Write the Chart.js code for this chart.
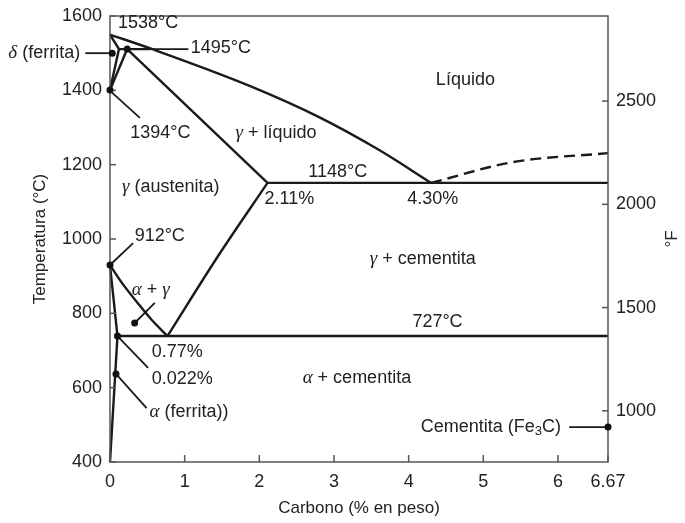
<!DOCTYPE html>
<html>
<head>
<meta charset="utf-8">
<script src="https://cdn.jsdelivr.net/npm/chart.js@4.4.0/dist/chart.umd.min.js"></script>
<style>
html, body { margin: 0; padding: 0; background: #fff; }
#wrap { width: 685px; height: 523px; }
</style>
</head>
<body>
<div id="wrap"><canvas id="feC"></canvas></div>
<script>
// Fe-C phase diagram, points as [wt% C, °C]
const xTicks = [0, 1, 2, 3, 4, 5, 6, 6.67];
const fTicks = [1000, 1500, 2000, 2500];

const liquidus = [[0, 1550], [0.55, 1512], [1.87, 1412], [2.8, 1328], [3.6, 1240], [4.3, 1151]];
const liquidusFe3C = [[4.3, 1151], [5.4, 1207], [6.67, 1231]];
const deltaBound = [[0, 1550], [0.12, 1511], [0, 1401]];
const gammaDelta = [[0, 1401], [0.23, 1511]];
const peritectic = [[0.12, 1511], [0.55, 1511]];
const solidus = [[0.23, 1511], [2.11, 1151]];
const eutectic = [[2.11, 1151], [6.67, 1151]];
const a3 = [[0, 930], [0.16, 882], [0.37, 828], [0.56, 782], [0.77, 739]];
const alphaBound = [[0, 930], [0.1, 739]];
const acm = [[0.77, 739], [1.45, 955], [2.11, 1151]];
const eutectoid = [[0.1, 739], [6.67, 739]];
const solvus = [[0.1, 739], [0, 400]];
const dots = [[0.03, 1500], [0.23, 1511], [0, 1401], [0, 930], [0.33, 774], [0.1, 739], [0.08, 637], [6.67, 494]];

// text labels: segments, anchor [wt%, °C], alignment, optional leader line
const labels = [
    { segs: [['1538°C', 's']], at: [0.107, 1581], align: 'left' },
    { segs: [['1495°C', 's']], at: [1.08, 1515], align: 'left', lead: [[0.23, 1511], [1.05, 1511]] },
    { segs: [['δ', 'g'], [' (ferrita)', 's']], at: [-0.40, 1500], align: 'right', lead: [[-0.33, 1500], [0.03, 1500]] },
    { segs: [['1394°C', 's']], at: [0.27, 1285], align: 'left', lead: [[0.02, 1395], [0.4, 1326]] },
    { segs: [['Líquido', 's']], at: [4.76, 1428], align: 'center' },
    { segs: [['γ', 'g'], [' + líquido', 's']], at: [1.68, 1285], align: 'left' },
    { segs: [['1148°C', 's']], at: [3.05, 1180], align: 'center' },
    { segs: [['2.11%', 's']], at: [2.07, 1108], align: 'left' },
    { segs: [['4.30%', 's']], at: [3.98, 1108], align: 'left' },
    { segs: [['γ', 'g'], [' (austenita)', 's']], at: [0.16, 1140], align: 'left' },
    { segs: [['912°C', 's']], at: [0.33, 1008], align: 'left', lead: [[0, 930], [0.31, 989]] },
    { segs: [['γ', 'g'], [' + cementita', 's']], at: [3.48, 946], align: 'left' },
    { segs: [['α', 'g'], [' + ', 's'], ['γ', 'g']], at: [0.29, 863], align: 'left', lead: [[0.33, 774], [0.6, 828]] },
    { segs: [['727°C', 's']], at: [4.05, 777], align: 'left' },
    { segs: [['0.77%', 's']], at: [0.56, 696], align: 'left' },
    { segs: [['0.022%', 's']], at: [0.56, 623], align: 'left', lead: [[0.1, 739], [0.51, 653]] },
    { segs: [['α', 'g'], [' + cementita', 's']], at: [2.58, 626], align: 'left' },
    { segs: [['α', 'g'], [' (ferrita))', 's']], at: [0.53, 535], align: 'left', lead: [[0.08, 637], [0.49, 545]] },
    { segs: [['Cementita (Fe', 's'], ['3', 'sub'], ['C)', 's']], at: [6.04, 494], align: 'right', lead: [[6.15, 494], [6.67, 494]] }
];

const fonts = {
    s: '18px "Liberation Sans", Arial, sans-serif',
    g: 'italic 19px "Liberation Serif", "Times New Roman", serif',
    sub: '13px "Liberation Sans", Arial, sans-serif',
    t: '17px "Liberation Sans", Arial, sans-serif'
};

const toXY = pts => pts.map(p => ({ x: p[0], y: p[1] }));

function lineSet(pts, extra) {
    return Object.assign({
        data: toXY(pts),
        showLine: true,
        borderColor: '#1a1a1a',
        borderWidth: 2.4,
        pointRadius: 0,
        fill: false,
        clip: false
    }, extra || {});
}

function drawRich(ctx, segs, px, py, align) {
    let w = 0;
    segs.forEach(([t, f]) => { ctx.font = fonts[f]; w += ctx.measureText(t).width; });
    let cx = align === 'right' ? px - w : align === 'center' ? px - w / 2 : px;
    segs.forEach(([t, f]) => {
        ctx.font = fonts[f];
        ctx.fillText(t, cx, py + (f === 'sub' ? 4 : 0));
        cx += ctx.measureText(t).width;
    });
}

const annot = {
    id: 'annot',
    afterDraw(chart) {
        const { ctx, chartArea: a, scales: { x, y, y2 } } = chart;
        const seg = (x1, y1, x2, y2_) => { ctx.beginPath(); ctx.moveTo(x1, y1); ctx.lineTo(x2, y2_); ctx.stroke(); };
        ctx.save();

        // frame and inward tick marks
        ctx.strokeStyle = '#555';
        ctx.lineWidth = 1.5;
        ctx.strokeRect(a.left, a.top, a.right - a.left, a.bottom - a.top);
        y.ticks.forEach(t => { const p = y.getPixelForValue(t.value); seg(a.left, p, a.left + 6, p); });
        x.ticks.forEach(t => { const p = x.getPixelForValue(t.value); seg(p, a.bottom, p, a.bottom - 7); });
        y2.ticks.forEach(t => { const p = y2.getPixelForValue(t.value); seg(a.right - 6, p, a.right, p); });

        // leader lines
        ctx.strokeStyle = '#1a1a1a';
        ctx.lineWidth = 1.8;
        labels.forEach(l => {
            if (!l.lead) return;
            const [p, q] = l.lead;
            seg(x.getPixelForValue(p[0]), y.getPixelForValue(p[1]), x.getPixelForValue(q[0]), y.getPixelForValue(q[1]));
        });

        // dots on top of the frame
        ctx.fillStyle = '#111';
        dots.forEach(d => {
            ctx.beginPath();
            ctx.arc(x.getPixelForValue(d[0]), y.getPixelForValue(d[1]), 3.5, 0, Math.PI * 2);
            ctx.fill();
        });

        // labels
        ctx.fillStyle = '#222';
        ctx.textBaseline = 'middle';
        labels.forEach(l => {
            drawRich(ctx, l.segs, x.getPixelForValue(l.at[0]), y.getPixelForValue(l.at[1]), l.align);
        });

        // right axis title
        ctx.save();
        ctx.translate(672, (a.top + a.bottom) / 2);
        ctx.rotate(-Math.PI / 2);
        ctx.textAlign = 'center';
        ctx.font = fonts.t;
        ctx.fillText('°F', 0, 0);
        ctx.restore();

        ctx.restore();
    }
};

const tickFont = { family: '"Liberation Sans", Arial, sans-serif', size: 18 };
const titleFont = { family: '"Liberation Sans", Arial, sans-serif', size: 17 };
const plain = v => String(v);

const ctxFeC = document.getElementById('feC').getContext('2d');
const feCChart = new Chart(ctxFeC, {
    type: 'scatter',
    data: {
        datasets: [
            lineSet(liquidus, { cubicInterpolationMode: 'monotone' }),
            lineSet(liquidusFe3C, { cubicInterpolationMode: 'monotone', borderDash: [11, 6] }),
            lineSet(deltaBound),
            lineSet(gammaDelta),
            lineSet(peritectic),
            lineSet(solidus),
            lineSet(eutectic),
            lineSet(a3, { cubicInterpolationMode: 'monotone' }),
            lineSet(alphaBound),
            lineSet(acm, { cubicInterpolationMode: 'monotone' }),
            lineSet(eutectoid),
            lineSet(solvus)
        ]
    },
    options: {
        responsive: true,
        maintainAspectRatio: false,
        animation: false,
        layout: { padding: { top: 16, left: 0, right: 0, bottom: 0 } },
        plugins: {
            legend: { display: false },
            tooltip: { enabled: false }
        },
        scales: {
            x: {
                type: 'linear',
                min: 0,
                max: 6.67,
                grid: { display: false },
                border: { display: false },
                afterBuildTicks: s => { s.ticks = xTicks.map(v => ({ value: v })); },
                afterFit: s => { s.height = 61; },
                ticks: { padding: 1, color: '#222', font: tickFont, autoSkip: false, maxRotation: 0, callback: plain },
                title: { display: true, text: 'Carbono (% en peso)', color: '#222', font: titleFont, padding: { top: 5 } }
            },
            y: {
                type: 'linear',
                position: 'left',
                min: 400,
                max: 1600,
                grid: { display: false },
                border: { display: false },
                afterFit: s => { s.width = 110; },
                ticks: { stepSize: 200, padding: 0, color: '#222', font: tickFont, callback: plain },
                title: { display: true, text: 'Temperatura (°C)', color: '#222', font: titleFont, padding: { top: 30 } }
            },
            y2: {
                type: 'linear',
                position: 'right',
                min: 752,
                max: 2912,
                grid: { display: false },
                border: { display: false },
                afterBuildTicks: s => { s.ticks = fTicks.map(v => ({ value: v })); },
                afterFit: s => { s.width = 77; },
                ticks: { padding: 0, color: '#222', font: tickFont, callback: plain }
            }
        }
    },
    plugins: [annot]
});
</script>
</body>
</html>
